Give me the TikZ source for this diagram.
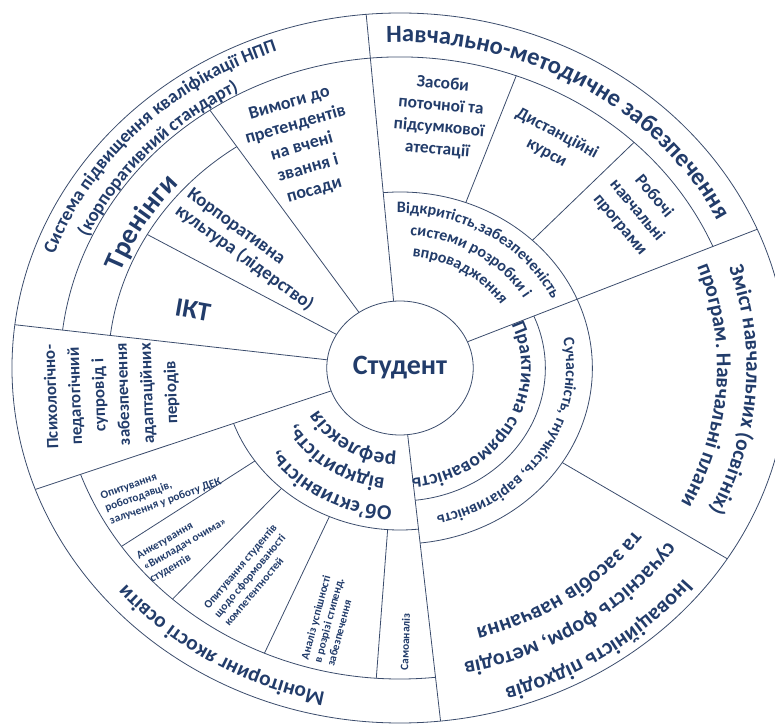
\documentclass[tikz,border=0pt]{standalone}
\usepackage{fontspec}
\setmainfont{Carlito}
\usepackage{tikz}
\usetikzlibrary{decorations.text}
\definecolor{wheelInk}{HTML}{223C6A}
\definecolor{wheelLine}{HTML}{3B4C6C}
\newcommand\fs[2]{\fontsize{#1}{#2}\selectfont\bfseries}
% text bent along a ring: [align]{from}{to}{radius}{size}{text}
\newcommand\arctext[6][center]{%
  \path[decorate,decoration={text along path,text align=#1,text color=wheelInk,
    text={|\fs{#5}{#5}|#6}}] (#2:#4) arc[start angle=#2,end angle=#3,radius=#4];}

\begin{document}
\begin{tikzpicture}[x=0.75pt,y=0.75pt,line width=0.6pt,
  rim/.style={draw=wheelLine},
  lbl/.style={text=wheelInk,font=\bfseries,align=center,inner sep=0pt},
  small/.style={lbl,font=\fs{8.5}{10},align=left}]
\useasboundingbox (-400,-356) rectangle (375,368);
\begin{scope}[xscale=1.093]
% rings
\draw[rim] (0,0) circle (355);
\draw[rim] (0,0) circle (67);
\draw[rim] (23:311) arc[start angle=23,end angle=173,radius=311];
\draw[rim] (200:311) arc[start angle=200,end angle=276,radius=311];
\draw[rim] (124:267) arc[start angle=124,end angle=173,radius=267];
\draw[rim] (-84:176) arc[start angle=-84,end angle=95,radius=176];
\draw[rim] (-84:133) arc[start angle=-84,end angle=23,radius=133];
\draw[rim] (200:162) arc[start angle=200,end angle=276,radius=162];
% spokes
\foreach \a in {23,95,173,200,276} \draw[rim] (\a:67) -- (\a:355);
\draw[rim] (124:67) -- (124:311);
\draw[rim] (150:67) -- (150:267);
\foreach \a in {46.5,70} \draw[rim] (\a:176) -- (\a:311);
\draw[rim] (-32.5:176) -- (-32.5:355);
\foreach \a in {215,228,246.5,266} \draw[rim] (\a:162) -- (\a:311);

% hub
\node[lbl,font=\fs{21}{23}] (hub) at (0,0) {Студент};

% outer band
\arctext{176}{95}{336}{14}{Система підвищення кваліфікації НПП}
\arctext{178}{97}{314}{14}{(корпоративний стандарт)}
\arctext{118}{-1}{326}{18.5}{Навчально-методичне забезпечення}
\arctext{40}{-48}{317}{16}{Зміст навчальних (освітніх)}
\arctext{40}{-47}{290}{16}{програм. Навчальні плани}
\arctext{-5}{-105}{334}{16.5}{Іноваційність підходів}
\arctext{-5}{-107}{300}{16.5}{сучасність форм, методів}
\arctext{-5}{-105}{269}{16.5}{та засобів навчання}
\arctext{285}{192}{331}{16}{Моніторинг якості освіти}
\arctext{175}{123}{273}{21}{Тренінги}

% upper sectors
\node[lbl,font=\fs{13.5}{17},rotate=16] (vymohy) at (112.1:238.5) {Вимоги до\\претендентів\\на вчені\\звання і\\посади};
\node[lbl,font=\fs{14}{15.5},rotate=-36,align=left] (kultura) at (139.3:181) {Корпоративна\\культура (лідерство)};
\node[lbl,font=\fs{20}{22},rotate=-10] (ikt) at (163:198) {ІКТ};
\node[lbl,font=\fs{13}{16.5},rotate=-5] (zasoby) at (81.7:253.7) {Засоби\\поточної та\\підсумкової\\атестації};
\node[lbl,font=\fs{13}{16.5},rotate=-28] (dystant) at (58.3:264.5) {Дистанційні\\курси};
\node[lbl,font=\fs{13}{16.5},rotate=-50] (robochi) at (36:268) {Робочі\\навчальні\\програми};
\arctext{118}{-3}{155}{12}{Відкритість,забезпеченість}
\arctext{118}{-3}{133}{12}{системи розробки і}
\arctext{118}{-2}{112}{12}{впровадження}

% right sectors
\arctext{50}{-110}{111}{14.5}{Практична спрямованість}
\arctext{50}{-114}{152}{12}{Сучасність, гнучкість, варіативність}

% left and lower sectors
\node[lbl,font=\fs{12.75}{18},rotate=92] (psyched) at (185.8:265) {Психологічно-\\педагогічний\\супровід і\\забезпечення\\адаптаційних\\періодів};
\arctext[left]{267}{180}{139}{16}{Об’єктивність,}
\arctext[left]{263}{180}{111}{16}{відкритість,}
\arctext[left]{268}{180}{86}{16}{рефлексія}
\node[small,rotate=20] (roboto) at (209:250) {Опитування\\роботодавців,\\залучення у роботу ДЕК};
\node[small,rotate=30] (anketa) at (222:264.6) {Анкетування\\«Викладач очима»\\студентів};
\node[small,rotate=50] (opytst) at (236.5:248) {Опитування студентів\\щодо сформованості\\компетентностей};
\node[small,rotate=75] (analiz) at (255.5:260.7) {Аналіз успішності\\в розрізі стипенд.\\забезпечення};
\node[small,rotate=88] (samo) at (271:274) {Самоаналіз};
\end{scope}
\end{tikzpicture}
\end{document}
